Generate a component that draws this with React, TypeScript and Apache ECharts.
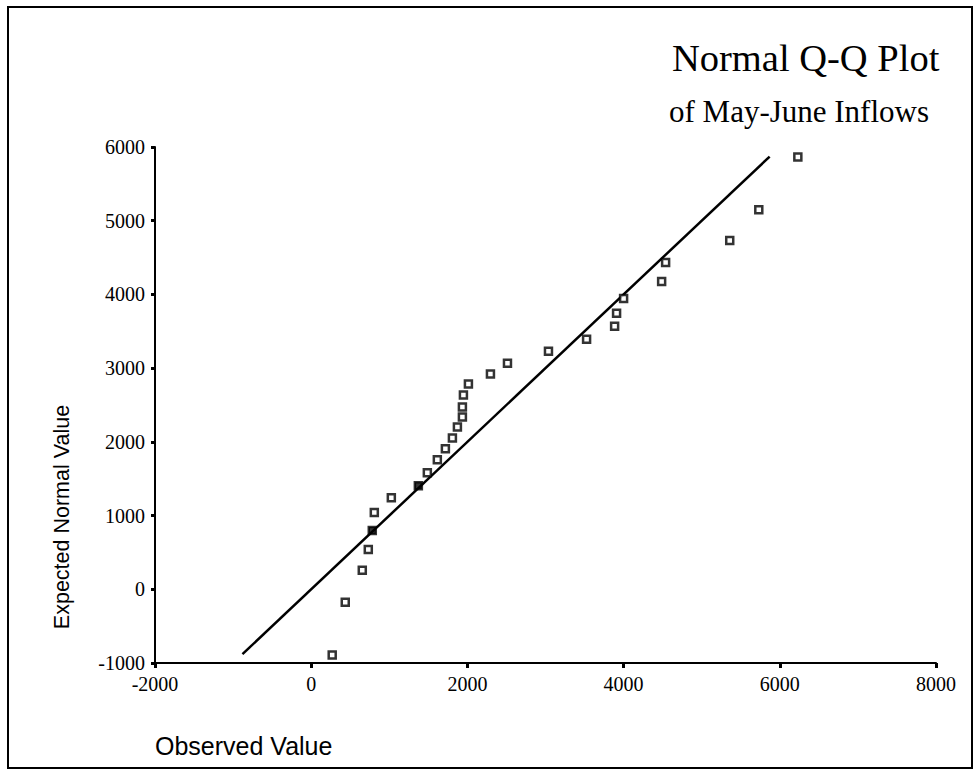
import { useEffect, useRef } from "react";
import * as echarts from "echarts";

const observed = [269, 436, 654, 731, 782, 808, 1026, 1372, 1487, 1615, 1718, 1808, 1872, 1936, 1936, 1949, 2013, 2295, 2513, 3038, 3526, 3885, 3910, 4000, 4487, 4538, 5359, 5731, 6231];
const expected = [-892, -176, 257, 541, 797, 1041, 1243, 1405, 1581, 1757, 1905, 2054, 2203, 2338, 2473, 2635, 2784, 2919, 3068, 3230, 3392, 3568, 3743, 3946, 4176, 4432, 4730, 5149, 5865];
// points where the line runs through the marker (drawn filled)
const filledPoints = [4, 7];
// reference line y = x
const refLineX = [-880, 5870];
const refLineY = [-880, 5870];

const xMin = -2000, xMax = 8000, xStep = 2000;
const yMin = -1000, yMax = 6000, yStep = 1000;

const titleText = "Normal Q-Q Plot";
const subtitleText = "of May-June Inflows";
const xName = "Observed Value";
const yName = "Expected Normal Value";

export default function App() {
  const ref = useRef<HTMLDivElement>(null);
  useEffect(() => {
    if (!ref.current) return;
    const chart = echarts.init(ref.current, null, { renderer: "svg" });
    const serif = "Liberation Serif";
    const sans = "Liberation Sans";
    const plain = (v: number) => String(v);
    chart.setOption({
      animation: false,
      backgroundColor: "#fff",
      grid: { left: 155, top: 147, width: 781, height: 516 },
      xAxis: {
        type: "value",
        min: xMin,
        max: xMax,
        interval: xStep,
        axisLine: { show: true, onZero: false, lineStyle: { color: "#000", width: 2 } },
        axisTick: { show: true, length: 5, lineStyle: { color: "#000", width: 3 } },
        axisLabel: { color: "#000", fontFamily: serif, fontSize: 20, margin: 11, formatter: plain },
        splitLine: { show: false },
      },
      yAxis: {
        type: "value",
        min: yMin,
        max: yMax,
        interval: yStep,
        axisLine: { show: true, onZero: false, lineStyle: { color: "#000", width: 2 } },
        axisTick: { show: true, length: 4, lineStyle: { color: "#000", width: 3 } },
        axisLabel: { color: "#000", fontFamily: serif, fontSize: 20, margin: 10, formatter: plain },
        splitLine: { show: false },
      },
      series: [
        {
          type: "line",
          data: refLineX.map((x, i) => [x, refLineY[i]]),
          symbol: "none",
          lineStyle: { color: "#000", width: 2.5 },
          z: 2,
        },
        {
          type: "scatter",
          symbol: "rect",
          symbolSize: 7,
          itemStyle: { color: "#fff", borderColor: "#000", borderWidth: 2.5 },
          data: observed.map((x, i) => ({
            value: [x, expected[i]],
            itemStyle: filledPoints.includes(i) ? { color: "#000" } : undefined,
          })),
          z: 3,
        },
      ],
      graphic: [
        {
          type: "rect",
          shape: { x: 8, y: 7, width: 964, height: 761 },
          style: { fill: "none", stroke: "#000", lineWidth: 2 },
          silent: true,
        },
        {
          type: "text",
          x: 672,
          y: 58,
          style: {
            text: titleText,
            font: `38.5px "${serif}"`,
            fill: "#000",
            align: "left",
            verticalAlign: "middle",
          },
        },
        {
          type: "text",
          x: 669,
          y: 111,
          style: {
            text: subtitleText,
            font: `31px "${serif}"`,
            fill: "#000",
            align: "left",
            verticalAlign: "middle",
          },
        },
        {
          type: "text",
          x: 155,
          y: 746,
          style: {
            text: xName,
            font: `25px "${sans}"`,
            fill: "#000",
            align: "left",
            verticalAlign: "middle",
          },
        },
        {
          type: "text",
          x: 62,
          y: 517,
          rotation: Math.PI / 2,
          style: {
            text: yName,
            font: `21.5px "${sans}"`,
            fill: "#000",
            align: "center",
            verticalAlign: "middle",
          },
        },
      ],
    });
    return () => chart.dispose();
  }, []);
  return (
    <div
      ref={ref}
      style={{ position: "absolute", left: 0, top: 0, width: 979, height: 776 }}
    />
  );
}
